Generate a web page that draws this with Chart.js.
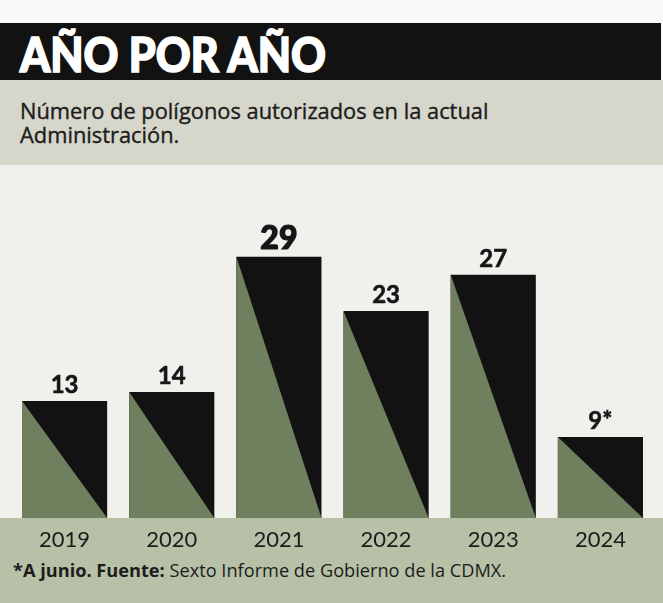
<!DOCTYPE html>
<html>
<head>
<meta charset="utf-8">
<script src="https://cdn.jsdelivr.net/npm/chart.js@4.4.1/dist/chart.umd.min.js"></script>
<style>
  html, body { margin: 0; padding: 0; width: 663px; height: 603px; overflow: hidden; background: #f9f9f7; font-family: Lato, "Open Sans", sans-serif; color: #1a1a1a; }
  .blk { position: absolute; left: 0; width: 663px; }
  #band { top: 23px; height: 57px; width: 661px; background: #121212; }
  #sub { top: 80px; height: 85px; background: #d6d6ca; }
  #plotbg { top: 165px; height: 353px; background: #f0f0ed; }
  #foot { top: 518px; height: 85px; background: #b7c1a7; }
  #title { position: absolute; left: 20px; top: 24.6px; font-size: 48px; line-height: 1.2; font-weight: 900; color: #fff; -webkit-text-stroke: 1.6px #fff; white-space: nowrap; transform-origin: 0 0; }
  #subtitle { position: absolute; left: 20px; top: 98.9px; font-family: "Open Sans", Lato, sans-serif; font-size: 21px; line-height: 24px; -webkit-text-stroke: 0.35px #1c1c1c; white-space: nowrap; transform-origin: 0 0; color: #1c1c1c; }
  #note { position: absolute; left: 13px; top: 559px; font-family: "Open Sans", Lato, sans-serif; font-size: 18px; line-height: 22px; white-space: nowrap; transform-origin: 0 0; color: #1c1c1c; }
  #note b { font-weight: 700; }
  #chartwrap { position: absolute; left: 0; top: 165px; width: 663px; height: 438px; }
</style>
</head>
<body>
<div class="blk" id="band"></div>
<div class="blk" id="sub"></div>
<div class="blk" id="plotbg"></div>
<div class="blk" id="foot"></div>
<div id="title">AÑO POR AÑO</div>
<div id="subtitle"><div id="sub1">Número de polígonos autorizados en la actual</div><div>Administración.</div></div>
<div id="note"><b>*A junio. Fuente:</b> Sexto Informe de Gobierno de la CDMX.</div>
<div id="chartwrap"><canvas id="c" width="663" height="438"></canvas></div>
<script>
const years = ["2019", "2020", "2021", "2022", "2023", "2024"];
const values = [13, 14, 29, 23, 27, 9];
const valueLabels = ["13", "14", "29", "23", "27", "9*"];
const highlightIndex = 2;

const BLACK = "#121212";
const GREEN = "#707f5d";

function fitWidth(el, target) {
  el.style.transform = "none";
  const w = el.scrollWidth;
  if (w > 0) el.style.transform = "scaleX(" + (target / w) + ")";
}

const diagonalPlugin = {
  id: "diagonal",
  afterDatasetsDraw(chart) {
    const ctx = chart.ctx;
    const meta = chart.getDatasetMeta(0);
    ctx.save();
    meta.data.forEach((bar) => {
      const p = bar.getProps(["x", "y", "base", "width"], true);
      const left = p.x - p.width / 2, right = p.x + p.width / 2;
      ctx.beginPath();
      ctx.moveTo(left, p.y);
      ctx.lineTo(right, p.base);
      ctx.lineTo(left, p.base);
      ctx.closePath();
      ctx.fillStyle = GREEN;
      ctx.fill();
    });
    meta.data.forEach((bar, i) => {
      const p = bar.getProps(["x", "y"], true);
      ctx.fillStyle = "#161616";
      ctx.strokeStyle = "#161616";
      ctx.lineWidth = i === highlightIndex ? 1.2 : 0.6;
      ctx.textAlign = "center";
      ctx.textBaseline = "alphabetic";
      ctx.font = (i === highlightIndex ? "900 32px" : "700 24px") + " Lato, 'Open Sans', sans-serif";
      ctx.fillText(valueLabels[i], p.x, p.y - 8);
      ctx.strokeText(valueLabels[i], p.x, p.y - 8);
    });
    ctx.restore();
  }
};

new Chart(document.getElementById("c"), {
  type: "bar",
  data: {
    labels: years,
    datasets: [{
      data: values,
      backgroundColor: BLACK,
      borderWidth: 0,
      categoryPercentage: 1,
      barPercentage: 85 / 107
    }]
  },
  options: {
    responsive: false,
    animation: false,
    layout: { padding: { left: 11, right: 9, top: 0, bottom: 45 } },
    plugins: { legend: { display: false }, tooltip: { enabled: false } },
    scales: {
      y: { display: false, min: 0, max: 39.2 },
      x: {
        grid: { display: false, drawTicks: false },
        border: { display: false },
        ticks: { color: "#1c1c1c", padding: 9, font: { family: "Lato, 'Open Sans', sans-serif", size: 22 } },
        afterFit(scale) { scale.height = 40; }
      }
    }
  },
  plugins: [diagonalPlugin]
});

function fitAll() {
  fitWidth(document.getElementById("title"), 306);
  const sub = document.getElementById("subtitle");
  sub.style.transform = "none";
  const w1 = document.getElementById("sub1").scrollWidth;
  sub.style.transform = "scaleX(" + (468 / w1) + ")";
  fitWidth(document.getElementById("note"), 493);
}
fitAll();
if (document.fonts && document.fonts.ready) document.fonts.ready.then(fitAll);
</script>
</body>
</html>
